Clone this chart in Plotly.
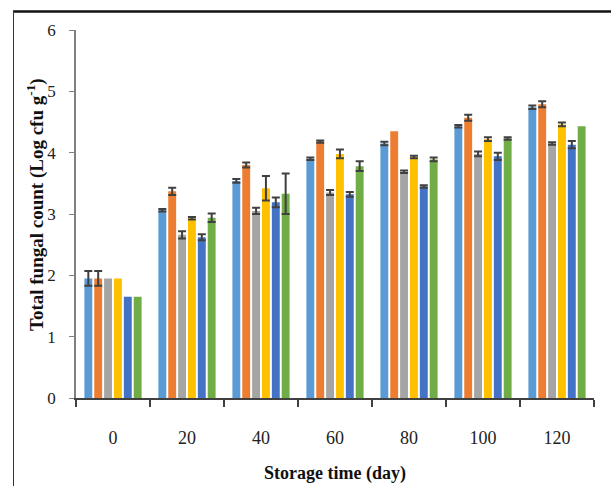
import plotly.graph_objects as go

days = ["0", "20", "40", "60", "80", "100", "120"]
series_names = ["T1", "T2", "T3", "T4", "T5", "T6"]
colors = ["#5B9BD5", "#ED7D31", "#A5A5A5", "#FFC000", "#4472C4", "#70AD47"]

t1 = [1.95, 3.06, 3.54, 3.90, 4.15, 4.43, 4.74]
t2 = [1.95, 3.37, 3.80, 4.18, 4.35, 4.57, 4.79]
t3 = [1.95, 2.66, 3.05, 3.35, 3.69, 3.98, 4.15]
t4 = [1.95, 2.93, 3.42, 3.98, 3.93, 4.22, 4.46]
t5 = [1.65, 2.62, 3.19, 3.32, 3.45, 3.94, 4.13]
t6 = [1.65, 2.94, 3.33, 3.78, 3.89, 4.23, 4.43]

e1 = [0.12, 0.02, 0.03, 0.02, 0.03, 0.02, 0.03]
e2 = [0.12, 0.06, 0.04, 0.02, None, 0.05, 0.05]
e3 = [None, 0.06, 0.05, 0.04, 0.02, 0.04, 0.02]
e4 = [None, 0.02, 0.20, 0.07, 0.02, 0.03, 0.03]
e5 = [None, 0.05, 0.08, 0.04, 0.02, 0.06, 0.06]
e6 = [None, 0.07, 0.33, 0.08, 0.03, 0.02, None]

values = [t1, t2, t3, t4, t5, t6]
errors = [e1, e2, e3, e4, e5, e6]

W, H = 611, 486
L, R, T, B = 76, 594, 30, 398

fig = go.Figure()
for name, col, v, e in zip(series_names, colors, values, errors):
    arr = ["NaN" if x is None else x for x in e]  # no error bar where None
    fig.add_trace(go.Bar(
        x=days, y=v, name=name, marker_color=col, marker_line_width=0,
        error_y=dict(type="data", array=arr, visible=True, color="#404040",
                     thickness=2, width=4),
    ))

def px(x):
    return (x - L) / (R - L)

def py(y):
    return (B - y) / (B - T)

serif = "Liberation Serif, Times New Roman, serif"

fig.update_layout(
    width=W, height=H,
    margin=dict(l=L, r=W - R, t=T, b=H - B),
    paper_bgcolor="white", plot_bgcolor="white",
    barmode="group", bargap=0.2, bargroupgap=0.2,
    showlegend=False,
    font=dict(family=serif, color="#222222"),
    xaxis=dict(
        type="category", showgrid=False, showline=True, linecolor="#404040",
        linewidth=2, ticks="outside", tickson="boundaries", ticklen=7,
        tickcolor="#404040", tickwidth=1.5,
        tickfont=dict(family=serif, size=18, color="#222222"),
        ticklabelstandoff=22,
    ),
    yaxis=dict(
        range=[0, 6], dtick=1, showgrid=False, showline=True, linecolor="#808080",
        linewidth=1.5, ticks="outside", ticklen=5, tickcolor="#808080",
        tickfont=dict(family=serif, size=17, color="#222222"),
        ticklabelstandoff=10, zeroline=False,
    ),
    annotations=[
        dict(text="<b>Total fungal count (Log cfu g<sup>-1</sup>)</b>",
             xref="paper", yref="paper", x=px(36), y=py(205),
             textangle=-90, showarrow=False, xanchor="center", yanchor="middle",
             font=dict(family=serif, size=19, color="#111111")),
        dict(text="<b>Storage time (day)</b>",
             xref="paper", yref="paper", x=px(335), y=py(473),
             showarrow=False, xanchor="center", yanchor="middle",
             font=dict(family=serif, size=18, color="#111111")),
    ],
    shapes=[
        dict(type="line", xref="paper", yref="paper", x0=px(13), x1=px(611),
             y0=py(11.5), y1=py(11.5), line=dict(color="#111111", width=2.5)),
        dict(type="line", xref="paper", yref="paper", x0=px(13.5), x1=px(13.5),
             y0=py(11), y1=py(486), line=dict(color="#333333", width=1)),
    ],
)

fig.write_html("out.html")
